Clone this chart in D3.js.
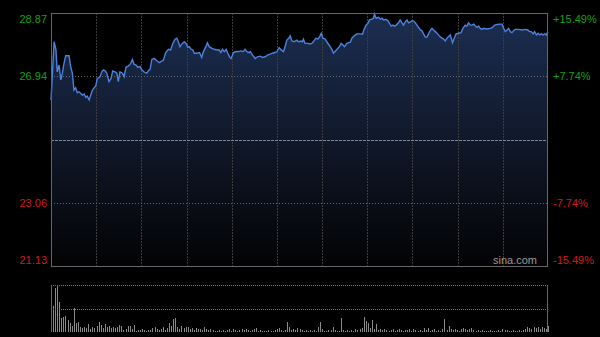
<!DOCTYPE html>
<html>
<head>
<meta charset="utf-8">
<script src="https://cdn.jsdelivr.net/npm/d3@7"></script>
<style>
  body { margin: 0; background: #000; }
  svg { display: block; font-family: Arial, "Liberation Sans", sans-serif; }
</style>
</head>
<body>
<div class="chart"></div>
<script>
// minutes since open (0..240) and price
var minutes = [0,1.5,2.4,3,3.9,4.7,5.5,6.3,7.1,8.7,9.5,10.3,11.1,11.9,12.7,13.5,14.4,15.1,16,16.8,17.5,18.4,19.2,20,20.8,21.6,22.4,23.7,24.5,25.3,26.1,26.9,28,29,29.8,30.9,31.8,32.5,33.3,34.5,35.3,36.2,37.4,38.5,39.3,40.1,41.1,41.9,43,43.8,44.9,46.2,47.4,
  47.8,48.7,49.8,51.1,52.3,53.5,54.3,55.4,56.7,57.8,58.8,59.9,60.7,61.5,62.3,63.4,64.4,65.2,66.1,66.8,67.7,68.5,69.2,70.4,71.7,72.8,73.6,74.8,75.5,76.4,77.7,78.8,80.1,81.2,82,82.8,83.7,84.6,85.4,86.2,87,88.1,89.4,90.5,91.7,92.9,93.7,94.6,95.7,
  96.2,97.3,98.6,99.7,101,102.1,103.4,104.5,105.8,106.9,108.2,109.1,110.2,111.1,112.3,113.1,113.9,115,115.5,116.3,117.4,118.7,119.5,120.7,121.4,121.9,122.7,123.8,125.2,126.3,127.2,128,128.9,129.6,130.5,131.3,132.4,133.5,134.8,135.6,136.4,137.6,138.5,139.3,140.1,141,141.7,142.9,144,
  144.5,145.3,146.4,147.7,149.3,150.4,151.2,152.1,153,153.8,155,155.7,156.2,157,158.2,159,159.8,160.6,161.7,162.7,163.5,164.3,165.1,165.9,166.7,167.8,168.6,169.5,170.2,171.1,171.9,172.7,173.5,174.3,175.1,175.9,176.7,177.5,178.3,179.1,179.9,180.7,181.5,182.3,183.1,184,184.7,185.6,186.4,187.1,188,188.8,189.6,190.4,191.2,192.3,
  192.8,193.9,194.7,195.6,196.8,198,198.9,200,200.9,201.6,202.5,203.3,204.1,204.9,205.7,206.5,207.3,208.1,208.9,210.5,212.1,213.2,214.2,215.4,216.6,217.8,218.6,219.4,220.2,221,221.8,222.6,223.4,224.2,225.8,227.4,229,230.2,231.1,231.9,232.8,233.5,234.4,235.2,235.9,236.8,237.6,238.4,239.2,240];
var prices = [26.21,27.99,27.74,27.07,27.28,26.82,27.03,27.34,27.56,27.56,27.23,27.03,26.51,26.58,26.43,26.46,26.41,26.36,26.39,26.29,26.33,26.21,26.36,26.51,26.58,26.64,26.87,26.92,27.07,27.13,27.10,27.03,26.77,26.87,27.10,27.07,27.03,26.77,27.07,27.03,26.92,27.21,27.25,27.33,27.45,27.30,27.28,27.21,27.23,27.13,27.07,27.03,27.13,
  27.13,27.45,27.48,27.41,27.35,27.40,27.43,27.66,27.76,27.74,27.94,28.07,28.10,27.99,27.84,27.94,27.99,27.94,27.82,27.84,27.76,27.74,27.64,27.64,27.66,27.51,27.69,27.84,27.96,27.84,27.79,27.76,27.74,27.74,27.66,27.76,27.69,27.76,27.64,27.53,27.48,27.66,27.69,27.69,27.71,27.69,27.76,27.69,27.66,
  27.69,27.58,27.48,27.53,27.55,27.51,27.53,27.58,27.61,27.64,27.66,27.69,27.81,27.74,27.69,27.86,28.04,28.11,28.17,28.02,27.99,28.04,27.99,28.01,27.99,28.07,27.94,27.94,27.92,27.96,28.04,28.10,28.07,28.13,28.25,28.10,28.07,27.96,27.84,27.76,27.64,27.72,27.79,27.84,27.94,27.89,27.84,27.94,27.97,
  27.97,28.10,28.17,28.23,28.23,28.22,28.37,28.50,28.55,28.66,28.68,28.71,28.84,28.71,28.74,28.68,28.71,28.66,28.68,28.63,28.55,28.47,28.50,28.47,28.50,28.57,28.66,28.57,28.50,28.60,28.66,28.57,28.60,28.63,28.63,28.57,28.50,28.43,28.35,28.33,28.23,28.14,28.13,28.23,28.33,28.40,28.35,28.30,28.25,28.20,28.14,28.10,28.07,28.02,28.10,28.17,
  28.20,27.96,28.10,28.23,28.25,28.27,28.40,28.50,28.47,28.57,28.50,28.50,28.53,28.47,28.43,28.47,28.40,28.37,28.40,28.38,28.40,28.43,28.50,28.52,28.53,28.53,28.40,28.30,28.35,28.40,28.30,28.27,28.33,28.37,28.37,28.35,28.37,28.35,28.30,28.30,28.23,28.30,28.20,28.25,28.20,28.23,28.20,28.23,28.20,28.30];

// one volume bar per minute
var volumes = [19,26,44,47,30,14,15,16,12,9,
  6,24,9,10,5,4,5,4,8,3,
  5,4,6,10,7,4,8,5,6,4,
  5,4,5,7,6,2,3,6,6,3,
  7,1,2,2,3,2,1,2,2,4,
  5,3,2,3,5,2,4,9,6,13,
  14,5,3,6,4,5,5,3,4,2,
  4,3,3,2,5,3,2,3,2,1,
  1,2,1,2,1,2,3,1,3,2,
  1,2,3,2,3,2,1,2,3,4,
  1,2,1,1,1,2,1,1,2,3,
  4,2,1,2,10,5,2,3,2,4,
  3,2,1,2,1,2,1,2,1,5,
  10,3,1,1,2,2,5,2,1,1,
  14,2,1,2,1,2,1,3,2,3,
  4,15,11,9,4,12,3,8,2,3,
  2,3,2,1,2,3,1,2,3,2,
  1,2,2,3,1,3,2,1,2,1,
  4,2,4,1,2,3,1,2,1,3,
  13,2,6,3,2,3,2,1,3,4,
  3,2,3,4,2,1,2,1,2,1,
  1,1,2,1,1,1,2,1,3,2,
  2,1,1,2,1,1,2,1,2,3,
  5,4,3,5,4,5,3,5,4,3,6];

var prevClose = 25.00;
var priceTicks = [28.87, 26.94, 25.00, 23.06, 21.13];
var priceLabels = ["28.87", "26.94", "", "23.06", "21.13"];
var pctLabels = ["+15.49%", "+7.74%", "", "-7.74%", "-15.49%"];

var W = 600, H = 337;
var pl = 51, pr = 548, pt = 13, pb = 266;
var vTop = 285, vBottom = 332;

var svg = d3.select(".chart").append("svg")
    .attr("width", W)
    .attr("height", H);

svg.append("rect").attr("width", W).attr("height", H).attr("fill", "#000");

var x = d3.scaleLinear().domain([0, 240]).range([pl, pr]);
var y = d3.scaleLinear().domain([21.13, 28.87]).range([pb, pt]);
var yv = d3.scaleLinear().domain([0, d3.max(volumes)]).range([vBottom, vTop]);

var defs = svg.append("defs");
var grad = defs.append("linearGradient")
    .attr("id", "fillGrad")
    .attr("gradientUnits", "userSpaceOnUse")
    .attr("x1", 0).attr("y1", pt)
    .attr("x2", 0).attr("y2", pb);
grad.append("stop").attr("offset", "0%").attr("stop-color", "#1c2e52");
grad.append("stop").attr("offset", "55%").attr("stop-color", "#0f1626");
grad.append("stop").attr("offset", "100%").attr("stop-color", "#030304");

var pts = minutes.map(function(m, i) { return [m, prices[i]]; });

svg.append("path")
    .datum(pts)
    .attr("fill", "url(#fillGrad)")
    .attr("d", d3.area()
        .x(function(d) { return x(d[0]); })
        .y0(pb)
        .y1(function(d) { return y(d[1]); }));

// vertical grid
var vgrid = d3.range(1, 11).map(function(k) { return k * 240 / 11; });
svg.selectAll("line.vgrid")
    .data(vgrid)
    .enter().append("line")
    .attr("class", "vgrid")
    .attr("x1", function(d) { return Math.round(x(d)) + 0.5; })
    .attr("x2", function(d) { return Math.round(x(d)) + 0.5; })
    .attr("y1", pt)
    .attr("y2", pb)
    .attr("stroke", "#3c3c3c")
    .attr("stroke-dasharray", "2,1");

// horizontal grid
svg.selectAll("line.hgrid")
    .data([26.94, 23.06])
    .enter().append("line")
    .attr("class", "hgrid")
    .attr("x1", pl).attr("x2", pr)
    .attr("y1", function(d) { return Math.round(y(d)) + 0.5; })
    .attr("y2", function(d) { return Math.round(y(d)) + 0.5; })
    .attr("stroke", "#666")
    .attr("stroke-dasharray", "1,2");

svg.append("line")
    .attr("x1", pl).attr("x2", pr)
    .attr("y1", Math.round(y(prevClose)) + 0.5)
    .attr("y2", Math.round(y(prevClose)) + 0.5)
    .attr("stroke", "#7c8799")
    .attr("stroke-dasharray", "3,1");

svg.append("path")
    .datum(pts)
    .attr("fill", "none")
    .attr("stroke", "#4b82dc")
    .attr("stroke-width", 1.4)
    .attr("d", d3.line()
        .x(function(d) { return x(d[0]); })
        .y(function(d) { return y(d[1]); }));

// frame
svg.append("rect")
    .attr("x", pl + 0.5).attr("y", pt + 0.5)
    .attr("width", pr - pl - 1).attr("height", pb - pt)
    .attr("fill", "none")
    .attr("stroke", "#666");

// axis labels
var lab = svg.selectAll("g.lab")
    .data(priceTicks)
    .enter().append("g")
    .attr("class", "lab");

function labelY(d, i) {
    var yy = y(d) + 4;
    if (i == 0) yy += 6;
    if (i == priceTicks.length - 1) yy -= 6;
    return yy;
}

lab.append("text")
    .attr("x", 47)
    .attr("y", labelY)
    .attr("text-anchor", "end")
    .attr("font-size", 11)
    .attr("fill", function(d) { return d > prevClose ? "#16a016" : "#d01c1c"; })
    .text(function(d, i) { return priceLabels[i]; });

lab.append("text")
    .attr("x", 553)
    .attr("y", labelY)
    .attr("text-anchor", "start")
    .attr("font-size", 11)
    .attr("fill", function(d) { return d > prevClose ? "#16a016" : "#d01c1c"; })
    .text(function(d, i) { return pctLabels[i]; });

svg.append("text")
    .attr("x", 537)
    .attr("y", 264)
    .attr("text-anchor", "end")
    .attr("font-size", 11)
    .attr("fill", "#9a9a9a")
    .text("sina.com");

// volume panel
svg.selectAll("line.vol")
    .data(volumes)
    .enter().append("line")
    .attr("class", "vol")
    .attr("x1", function(d, i) { return Math.round(x(i)) + 0.5; })
    .attr("x2", function(d, i) { return Math.round(x(i)) + 0.5; })
    .attr("y1", vBottom)
    .attr("y2", function(d) { return yv(d); })
    .attr("stroke", "#8a8a8a")
    .attr("stroke-width", 1);

svg.selectAll("line.vgridh")
    .data([vTop, (vTop + vBottom) / 2])
    .enter().append("line")
    .attr("class", "vgridh")
    .attr("x1", pl).attr("x2", pr)
    .attr("y1", function(d) { return Math.round(d) + 0.5; })
    .attr("y2", function(d) { return Math.round(d) + 0.5; })
    .attr("stroke", "#777")
    .attr("stroke-dasharray", "1,1");

svg.selectAll("line.vside")
    .data([pl + 0.5, pr - 0.5])
    .enter().append("line")
    .attr("class", "vside")
    .attr("x1", function(d) { return d; })
    .attr("x2", function(d) { return d; })
    .attr("y1", vTop).attr("y2", vBottom)
    .attr("stroke", "#666");
</script>
</body>
</html>
